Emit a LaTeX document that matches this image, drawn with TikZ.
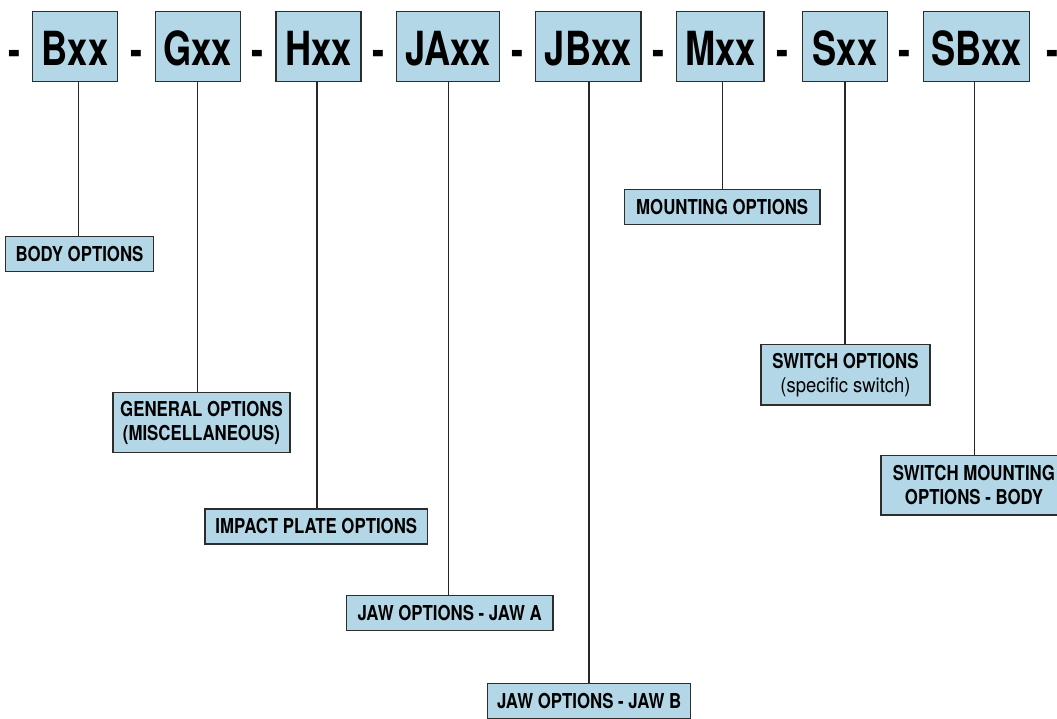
\documentclass[tikz,border=0pt]{standalone}
\usepackage{fontspec}
\newfontfamily\bigcn[FakeStretch=0.77]{TeX Gyre Heros}
\newfontfamily\labcn[FakeStretch=0.82]{TeX Gyre Heros}
\newfontfamily\regcn[FakeStretch=0.9]{TeX Gyre Heros}
\definecolor{boxblue}{RGB}{179,215,230}
\definecolor{edgegray}{RGB}{45,45,45}
\tikzset{
  codebox/.style={draw=edgegray, line width=1.3pt, fill=boxblue, minimum height=69.6pt,
    inner sep=0pt, text height=38.4pt, text depth=0pt,
    font=\bigcn\bfseries\fontsize{47}{50}\selectfont},
  sepdash/.style={anchor=base, inner sep=0pt, font=\bigcn\bfseries\fontsize{47}{50}\selectfont},
  optbox/.style={draw=edgegray, line width=1.3pt, fill=boxblue, inner sep=0pt, align=center,
    font=\labcn\bfseries\fontsize{20.5}{24}\selectfont},
  link/.style={draw=black!85, line width=1.2pt}
}
\begin{document}
\begin{tikzpicture}[x=1pt,y=-1pt]
\useasboundingbox (0,0) rectangle (1057,718);

% code boxes
\node[codebox, minimum width=85.4pt]  (B)  at (75,46.5)    {Bxx};
\node[codebox, minimum width=85pt]    (G)  at (197.8,46.5) {Gxx};
\node[codebox, minimum width=85pt]    (H)  at (318.5,46.5) {Hxx};
\node[codebox, minimum width=103pt]   (JA) at (448.2,46.5) {JAxx};
\node[codebox, minimum width=105.7pt] (JB) at (588.2,46.5) {JBxx};
\node[codebox, minimum width=87.3pt]  (M)  at (720.3,46.5) {Mxx};
\node[codebox, minimum width=84.6pt]  (S)  at (845,46.5)   {Sxx};
\node[codebox, minimum width=106pt]   (SB) at (976.3,46.5) {SBxx};

% separators
\node[sepdash] (d0) at (14.5,66)  {-};
\node[sepdash] (d1) at (136.5,66) {-};
\node[sepdash] (d2) at (258,66)   {-};
\node[sepdash] (d3) at (379,66)   {-};
\node[sepdash] (d4) at (517.5,66) {-};
\node[sepdash] (d5) at (659,66)   {-};
\node[sepdash] (d6) at (783,66)   {-};
\node[sepdash] (d7) at (905,66)   {-};
\node[sepdash] (d8) at (1053,66)  {-};

% option boxes
\node[optbox, minimum width=147.6pt, minimum height=35pt]   (body)    at (79.5,254.2)  {BODY OPTIONS};
\node[optbox, minimum width=177pt,   minimum height=59.6pt] (general) at (201.5,422.5)  {GENERAL OPTIONS\\(MISCELLANEOUS)};
\node[optbox, minimum width=222.7pt, minimum height=35pt]   (impact)  at (316.3,526.5) {IMPACT PLATE OPTIONS};
\node[optbox, minimum width=206.7pt, minimum height=34.6pt] (jawa)    at (449.7,613)   {JAW OPTIONS - JAW A};
\node[optbox, minimum width=203pt,   minimum height=35pt]   (jawb)    at (589.2,700.8) {JAW OPTIONS - JAW B};
\node[optbox, minimum width=195.7pt, minimum height=34.6pt] (mount)   at (722.2,207)   {MOUNTING OPTIONS};
\node[optbox, minimum width=169pt,   minimum height=60.7pt] (switch)  at (845.5,374.7) {SWITCH OPTIONS\\{\regcn\mdseries (specific switch)}};
\node[optbox, minimum width=186pt,   minimum height=59.7pt] (swmount) at (974,485.2)   {SWITCH MOUNTING\\OPTIONS - BODY};

% connector x positions
\coordinate (xB)  at (78.7,0);
\coordinate (xG)  at (197.7,0);
\coordinate (xH)  at (317,0);
\coordinate (xJA) at (448.5,0);
\coordinate (xJB) at (589,0);
\coordinate (xM)  at (722.2,0);
\coordinate (xS)  at (845,0);
\coordinate (xSB) at (974.5,0);

\draw[link] (B.south -| xB)   -- (body.north -| xB);
\draw[link] (G.south -| xG)   -- (general.north -| xG);
\draw[link] (H.south -| xH)   -- (impact.north -| xH);
\draw[link] (JA.south -| xJA) -- (jawa.north -| xJA);
\draw[link] (JB.south -| xJB) -- (jawb.north -| xJB);
\draw[link] (M.south -| xM)   -- (mount.north -| xM);
\draw[link] (S.south -| xS)   -- (switch.north -| xS);
\draw[link] (SB.south -| xSB) -- (swmount.north -| xSB);
\end{tikzpicture}
\end{document}
